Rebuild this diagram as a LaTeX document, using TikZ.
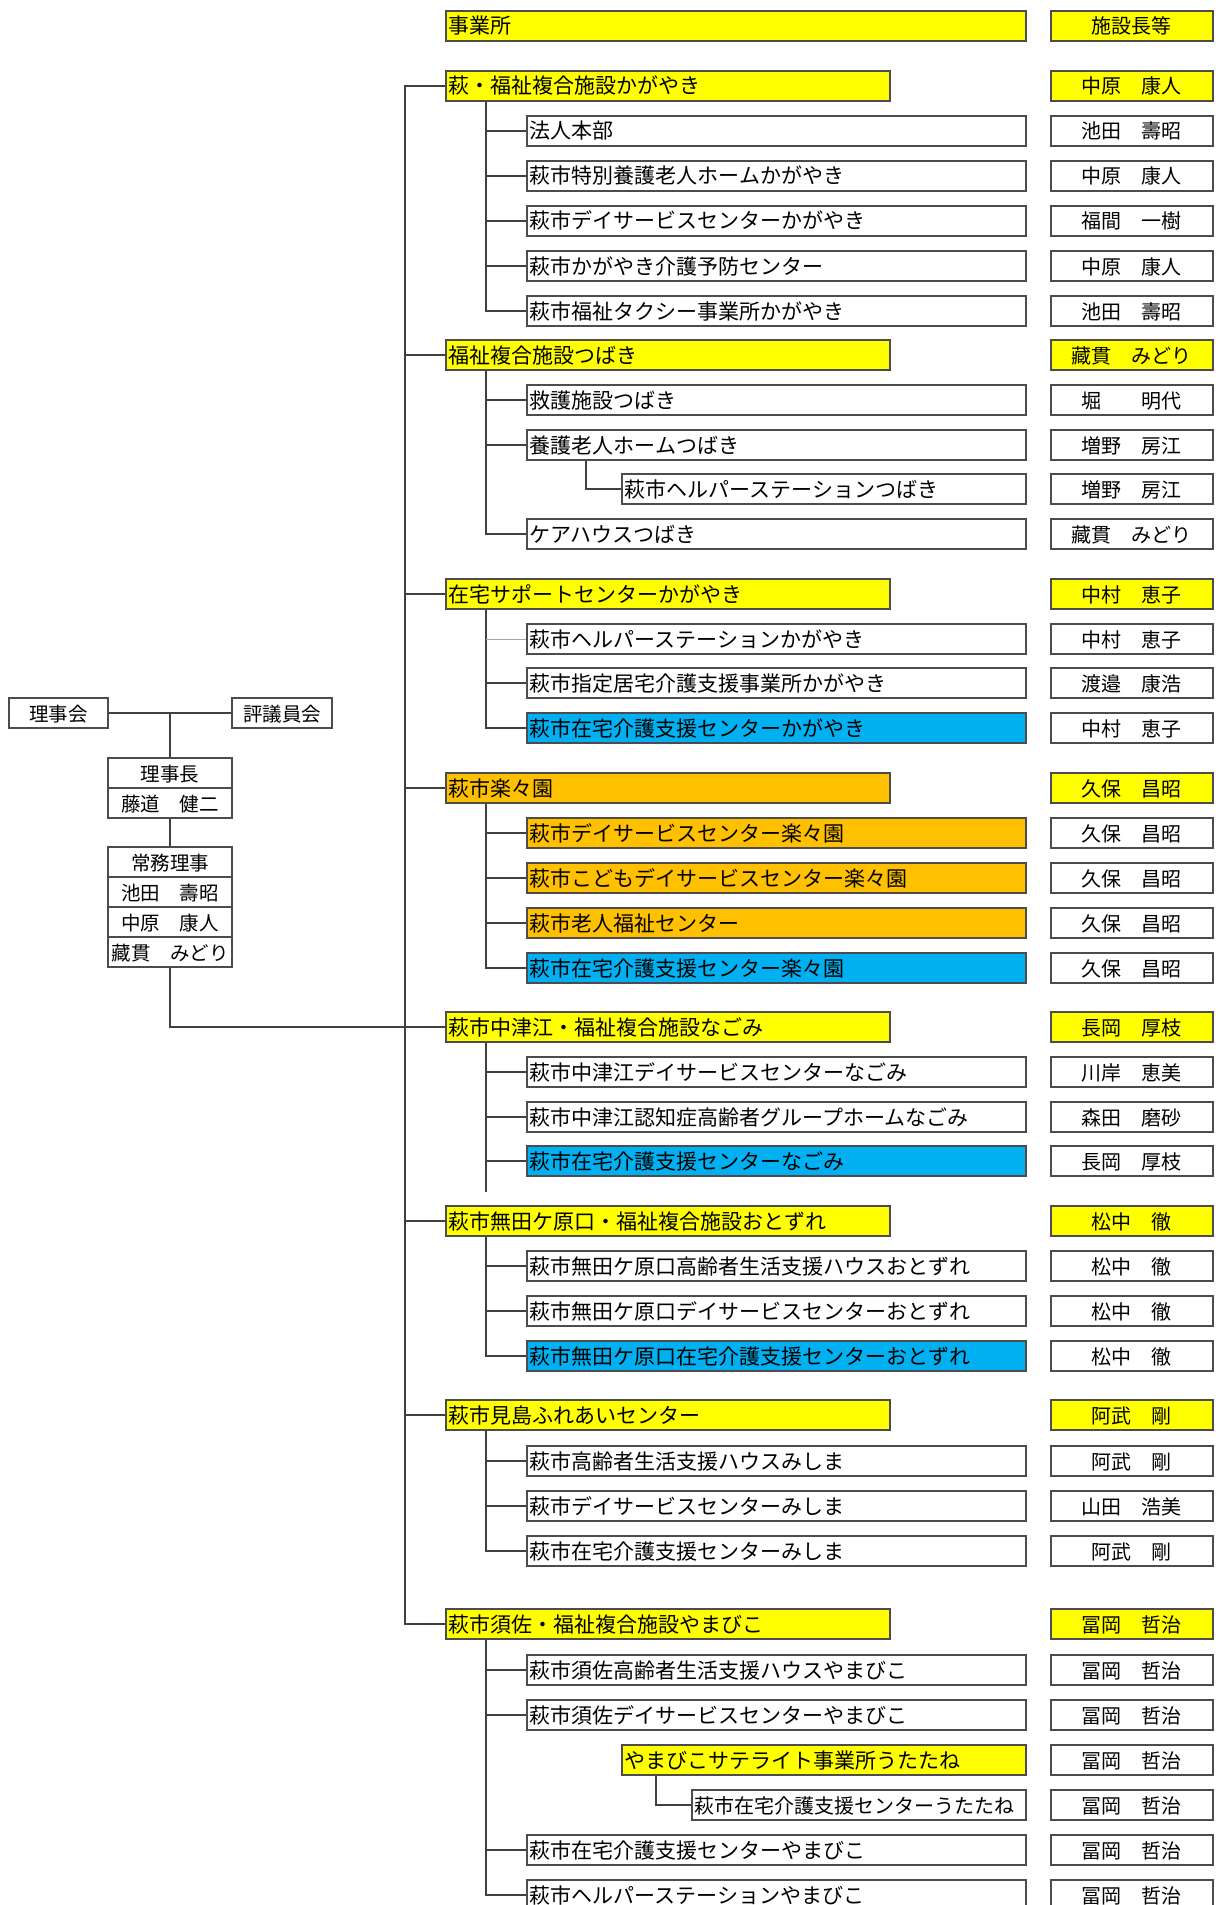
\documentclass[tikz,border=0pt]{standalone}
\usepackage{fontspec}
\newfontfamily\jpfont{Noto Sans CJK JP}
\usetikzlibrary{calc}

\begin{document}
\begin{tikzpicture}[x=1pt,y=-1pt,
    every node/.style={font=\jpfont\fontsize{21}{21}\selectfont,
      inner ysep=0pt, inner xsep=3pt, text height=18.5pt, text depth=2.5pt},
    box/.style={draw=black!70, line width=1.5pt, minimum height=30pt, anchor=west},
    head box/.style={box, fill=unitYellow, text width=438pt, align=left},
    header box/.style={box, fill=unitYellow, text width=574pt, align=left},
    sub box/.style={box, text width=493pt, align=left},
    third box/.style={box, text width=398pt, align=left},
    fourth box/.style={box, text width=328pt, align=left,
      font=\jpfont\fontsize{20}{20}\selectfont},
    chief box/.style={box, text width=156pt, align=center,
      font=\jpfont\fontsize{20}{20}\selectfont},
    board box/.style={box, anchor=center, minimum width=124pt, inner xsep=1pt,
      font=\jpfont\fontsize{19.5}{19.5}\selectfont},
    conn/.style={draw=black!75, line width=1.5pt}]
  \definecolor{unitYellow}{HTML}{FFFF00}
  \definecolor{unitOrange}{HTML}{FFC000}
  \definecolor{unitBlue}{HTML}{00B0F0}

  \useasboundingbox (0,0) rectangle (1219,1905);
  \clip (0,0) rectangle (1219,1905);

  % board
  \node[board box, minimum width=99pt] (council) at (58.5,713) {理事会};
  \node[board box, minimum width=100pt] (trustees) at (282,713) {評議員会};
  \node[board box] (chair) at (170,773) {理事長};
  \node[board box] (chair name) at (170,803) {藤道　健二};
  \node[board box] (exec) at (170,862) {常務理事};
  \node[board box] (exec1) at (170,892) {池田　壽昭};
  \node[board box] (exec2) at (170,922) {中原　康人};
  \node[board box] (exec3) at (170,952) {藏貫　みどり};

  % header
  \node[header box] (office) at (445,26) {事業所};
  \node[chief box, fill=unitYellow] (chief) at (1050,26) {施設長等};

  % units
  \node[head box] (h1) at (445,86) {萩・福祉複合施設かがやき};
  \node[chief box, fill=unitYellow] (p-h1) at (1050,86) {中原　康人};
  \node[sub box] (u11) at (526,131) {法人本部};
  \node[chief box] (p-u11) at (1050,131) {池田　壽昭};
  \node[sub box] (u12) at (526,176) {萩市特別養護老人ホームかがやき};
  \node[chief box] (p-u12) at (1050,176) {中原　康人};
  \node[sub box] (u13) at (526,221) {萩市デイサービスセンターかがやき};
  \node[chief box] (p-u13) at (1050,221) {福間　一樹};
  \node[sub box] (u14) at (526,266) {萩市かがやき介護予防センター};
  \node[chief box] (p-u14) at (1050,266) {中原　康人};
  \node[sub box] (u15) at (526,311) {萩市福祉タクシー事業所かがやき};
  \node[chief box] (p-u15) at (1050,311) {池田　壽昭};

  \node[head box] (h2) at (445,355) {福祉複合施設つばき};
  \node[chief box, fill=unitYellow] (p-h2) at (1050,355) {藏貫　みどり};
  \node[sub box] (u21) at (526,400) {救護施設つばき};
  \node[chief box] (p-u21) at (1050,400) {堀　　明代};
  \node[sub box] (u22) at (526,445) {養護老人ホームつばき};
  \node[chief box] (p-u22) at (1050,445) {増野　房江};
  \node[third box] (u22a) at (621,489) {萩市ヘルパーステーションつばき};
  \node[chief box] (p-u22a) at (1050,489) {増野　房江};
  \node[sub box] (u23) at (526,534) {ケアハウスつばき};
  \node[chief box] (p-u23) at (1050,534) {藏貫　みどり};

  \node[head box] (h3) at (445,594) {在宅サポートセンターかがやき};
  \node[chief box, fill=unitYellow] (p-h3) at (1050,594) {中村　恵子};
  \node[sub box] (u31) at (526,639) {萩市ヘルパーステーションかがやき};
  \node[chief box] (p-u31) at (1050,639) {中村　恵子};
  \node[sub box] (u32) at (526,683) {萩市指定居宅介護支援事業所かがやき};
  \node[chief box] (p-u32) at (1050,683) {渡邉　康浩};
  \node[sub box, fill=unitBlue] (u33) at (526,728) {萩市在宅介護支援センターかがやき};
  \node[chief box] (p-u33) at (1050,728) {中村　恵子};

  \node[head box, fill=unitOrange] (h4) at (445,788) {萩市楽々園};
  \node[chief box, fill=unitYellow] (p-h4) at (1050,788) {久保　昌昭};
  \node[sub box, fill=unitOrange] (u41) at (526,833) {萩市デイサービスセンター楽々園};
  \node[chief box] (p-u41) at (1050,833) {久保　昌昭};
  \node[sub box, fill=unitOrange] (u42) at (526,878) {萩市こどもデイサービスセンター楽々園};
  \node[chief box] (p-u42) at (1050,878) {久保　昌昭};
  \node[sub box, fill=unitOrange] (u43) at (526,923) {萩市老人福祉センター};
  \node[chief box] (p-u43) at (1050,923) {久保　昌昭};
  \node[sub box, fill=unitBlue] (u44) at (526,968) {萩市在宅介護支援センター楽々園};
  \node[chief box] (p-u44) at (1050,968) {久保　昌昭};

  \node[head box] (h5) at (445,1027) {萩市中津江・福祉複合施設なごみ};
  \node[chief box, fill=unitYellow] (p-h5) at (1050,1027) {長岡　厚枝};
  \node[sub box] (u51) at (526,1072) {萩市中津江デイサービスセンターなごみ};
  \node[chief box] (p-u51) at (1050,1072) {川岸　恵美};
  \node[sub box] (u52) at (526,1117) {萩市中津江認知症高齢者グループホームなごみ};
  \node[chief box] (p-u52) at (1050,1117) {森田　磨砂};
  \node[sub box, fill=unitBlue] (u53) at (526,1161) {萩市在宅介護支援センターなごみ};
  \node[chief box] (p-u53) at (1050,1161) {長岡　厚枝};

  \node[head box] (h6) at (445,1221) {萩市無田ケ原口・福祉複合施設おとずれ};
  \node[chief box, fill=unitYellow] (p-h6) at (1050,1221) {松中　徹};
  \node[sub box] (u61) at (526,1266) {萩市無田ケ原口高齢者生活支援ハウスおとずれ};
  \node[chief box] (p-u61) at (1050,1266) {松中　徹};
  \node[sub box] (u62) at (526,1311) {萩市無田ケ原口デイサービスセンターおとずれ};
  \node[chief box] (p-u62) at (1050,1311) {松中　徹};
  \node[sub box, fill=unitBlue] (u63) at (526,1356) {萩市無田ケ原口在宅介護支援センターおとずれ};
  \node[chief box] (p-u63) at (1050,1356) {松中　徹};

  \node[head box] (h7) at (445,1415) {萩市見島ふれあいセンター};
  \node[chief box, fill=unitYellow] (p-h7) at (1050,1415) {阿武　剛};
  \node[sub box] (u71) at (526,1461) {萩市高齢者生活支援ハウスみしま};
  \node[chief box] (p-u71) at (1050,1461) {阿武　剛};
  \node[sub box] (u72) at (526,1506) {萩市デイサービスセンターみしま};
  \node[chief box] (p-u72) at (1050,1506) {山田　浩美};
  \node[sub box] (u73) at (526,1551) {萩市在宅介護支援センターみしま};
  \node[chief box] (p-u73) at (1050,1551) {阿武　剛};

  \node[head box] (h8) at (445,1624) {萩市須佐・福祉複合施設やまびこ};
  \node[chief box, fill=unitYellow] (p-h8) at (1050,1624) {冨岡　哲治};
  \node[sub box] (u81) at (526,1670) {萩市須佐高齢者生活支援ハウスやまびこ};
  \node[chief box] (p-u81) at (1050,1670) {冨岡　哲治};
  \node[sub box] (u82) at (526,1715) {萩市須佐デイサービスセンターやまびこ};
  \node[chief box] (p-u82) at (1050,1715) {冨岡　哲治};
  \node[third box, fill=unitYellow] (u82a) at (621,1760) {やまびこサテライト事業所うたたね};
  \node[chief box] (p-u82a) at (1050,1760) {冨岡　哲治};
  \node[fourth box] (u82b) at (691,1805) {萩市在宅介護支援センターうたたね};
  \node[chief box] (p-u82b) at (1050,1805) {冨岡　哲治};
  \node[sub box] (u83) at (526,1850) {萩市在宅介護支援センターやまびこ};
  \node[chief box] (p-u83) at (1050,1850) {冨岡　哲治};
  \node[sub box] (u84) at (526,1895) {萩市ヘルパーステーションやまびこ};
  \node[chief box] (p-u84) at (1050,1895) {冨岡　哲治};

  % board lines
  \draw[conn] (council.east) -- (trustees.west);
  \draw[conn] (chair.north) -- (chair.north |- council.east);
  \draw[conn] (chair name.south) -- (exec.north);
  \draw[conn] (exec3.south) |- (h5.west);

  % trunk
  \coordinate (trunk) at (405,86);
  \draw[conn] (h1.west) -- (trunk) |- (h8.west);
  \foreach \h in {h2,h3,h4,h6,h7}
    \draw[conn] (\h.west) -- (\h.west -| trunk);

  % branches
  \draw[conn] ([xshift=41pt]h1.south west) |- (u15.west);
  \draw[conn] ([xshift=41pt]h2.south west) |- (u23.west);
  \draw[conn] ([xshift=41pt]h3.south west) |- (u33.west);
  \draw[conn] ([xshift=41pt]h4.south west) |- (u44.west);
  \draw[conn] ([xshift=41pt]h5.south west) -- ([xshift=41pt]h5.south west |- 0,1192);
  \draw[conn] ([xshift=41pt]h6.south west) |- (u63.west);
  \draw[conn] ([xshift=41pt]h7.south west) |- (u73.west);
  \draw[conn] ([xshift=41pt]h8.south west) |- (u84.west);
  \foreach \u in {u11,u12,u13,u14,u21,u22,u32,u41,u42,u43,u51,u52,u53,u61,u62,u71,u72,u81,u82,u83}
    \draw[conn] (\u.west) -- ++(-40,0);
  \draw[conn, draw=black!35, line width=0.8pt] (u31.west) -- ++(-40,0);
  \draw[conn] ([xshift=60pt]u22.south west) |- (u22a.west);
  \draw[conn] ([xshift=35pt]u82a.south west) |- (u82b.west);
\end{tikzpicture}
\end{document}
